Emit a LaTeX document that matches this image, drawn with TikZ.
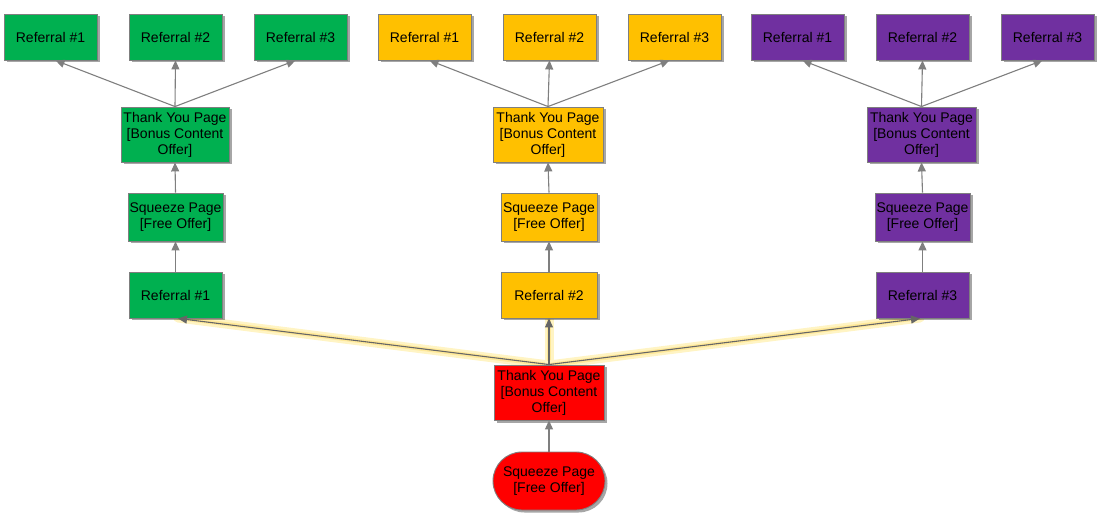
\documentclass[tikz,border=0pt]{standalone}
\usepackage{fontspec}
\setmainfont{Liberation Sans}
\usetikzlibrary{shadows,arrows.meta}
\definecolor{cgreen}{HTML}{00B050}
\definecolor{cyellow}{HTML}{FFC000}
\definecolor{cpurple}{HTML}{7030A0}
\definecolor{cred}{HTML}{FF0000}
\definecolor{cline}{HTML}{7F7F7F}
\definecolor{cglow}{HTML}{FFF4C4}
\definecolor{cglowin}{HTML}{FFE99A}
\tikzset{
  box/.style={draw=cline, line width=0.9pt, minimum width=93pt, minimum height=46pt,
    inner sep=1pt, align=center, font=\fontsize{14}{16}\selectfont,
    drop shadow={shadow xshift=2.5pt, shadow yshift=-2.5pt, fill=black, opacity=0.35}},
  gbox/.style={box, fill=cgreen},
  ybox/.style={box, fill=cyellow},
  pbox/.style={box, fill=cpurple},
  rbox/.style={box, fill=cred},
  conn/.style={draw=cline, line width=1.1pt, -{Triangle[length=9pt,width=8pt]}},
  glow/.style={draw=cglow, line width=9pt, line cap=round},
  glowin/.style={draw=cglowin, line width=4pt, line cap=round},
}
\begin{document}
\begin{tikzpicture}[x=1pt,y=-1pt]
\useasboundingbox (0,0) rectangle (1101,521);
% glow under main connectors (drawn first)
\coordinate (rTn) at (549,365);
\coordinate (gRs) at (178,318);
\coordinate (yRs) at (549,318);
\coordinate (pRs) at (920,318);
\foreach \e in {gRs,yRs,pRs}{
  \draw[glow] (rTn) -- (\e);
  \draw[glowin] (rTn) -- (\e);
}
% green column
\node[gbox] (g1) at (50.5,37) {Referral \#1};
\node[gbox] (g2) at (175.5,37) {Referral \#2};
\node[gbox] (g3) at (300.5,37) {Referral \#3};
\node[gbox, minimum width=108pt, minimum height=55pt] (gT) at (175,134.5) {Thank You Page\\{[Bonus Content}\\Offer]};
\node[gbox, minimum width=95pt, minimum height=48pt] (gS) at (175.5,217) {Squeeze Page\\{[Free Offer]}};
\node[gbox] (gR) at (175.5,295) {Referral \#1};
% yellow column
\node[ybox] (y1) at (424.5,37) {Referral \#1};
\node[ybox] (y2) at (549.5,37) {Referral \#2};
\node[ybox] (y3) at (674.5,37) {Referral \#3};
\node[ybox, minimum width=110pt, minimum height=55pt] (yT) at (548,134.5) {Thank You Page\\{[Bonus Content}\\Offer]};
\node[ybox, minimum width=96pt, minimum height=48pt] (yS) at (549,217) {Squeeze Page\\{[Free Offer]}};
\node[ybox, minimum width=96pt] (yR) at (549,295) {Referral \#2};
% purple column
\node[pbox] (p1) at (797.5,37) {Referral \#1};
\node[pbox] (p2) at (922.5,37) {Referral \#2};
\node[pbox] (p3) at (1047.5,37) {Referral \#3};
\node[pbox, minimum width=109pt, minimum height=55pt] (pT) at (921.5,134.5) {Thank You Page\\{[Bonus Content}\\Offer]};
\node[pbox, minimum width=95pt, minimum height=48pt] (pS) at (922.5,217) {Squeeze Page\\{[Free Offer]}};
\node[pbox] (pR) at (922.5,295) {Referral \#3};
% red root
\node[rbox, minimum width=110pt, minimum height=55pt] (rT) at (549,392.5) {Thank You Page\\{[Bonus Content}\\Offer]};
\node[rbox, minimum width=112pt, minimum height=58pt, rounded corners=29pt] (rS) at (549,481) {Squeeze Page\\{[Free Offer]}};
% connectors
\foreach \c in {g,y,p}{
  \draw[conn] (\c R.north) -- (\c S.south);
  \draw[conn] (\c S.north) -- (\c T.south);
  \draw[conn] (\c T.north) -- ([xshift=5pt]\c 1.south);
  \draw[conn] (\c T.north) -- (\c 2.south);
  \draw[conn] (\c T.north) -- ([xshift=-5pt]\c 3.south);
}
\draw[conn] (rS.north) -- (rT.south);
\draw[conn, draw=black!60] (rT.north) -- ([xshift=2.5pt]gR.south);
\draw[conn, draw=black!60] (rT.north) -- (yR.south);
\draw[conn, draw=black!60] (rT.north) -- ([xshift=-2.5pt]pR.south);
\end{tikzpicture}
\end{document}
